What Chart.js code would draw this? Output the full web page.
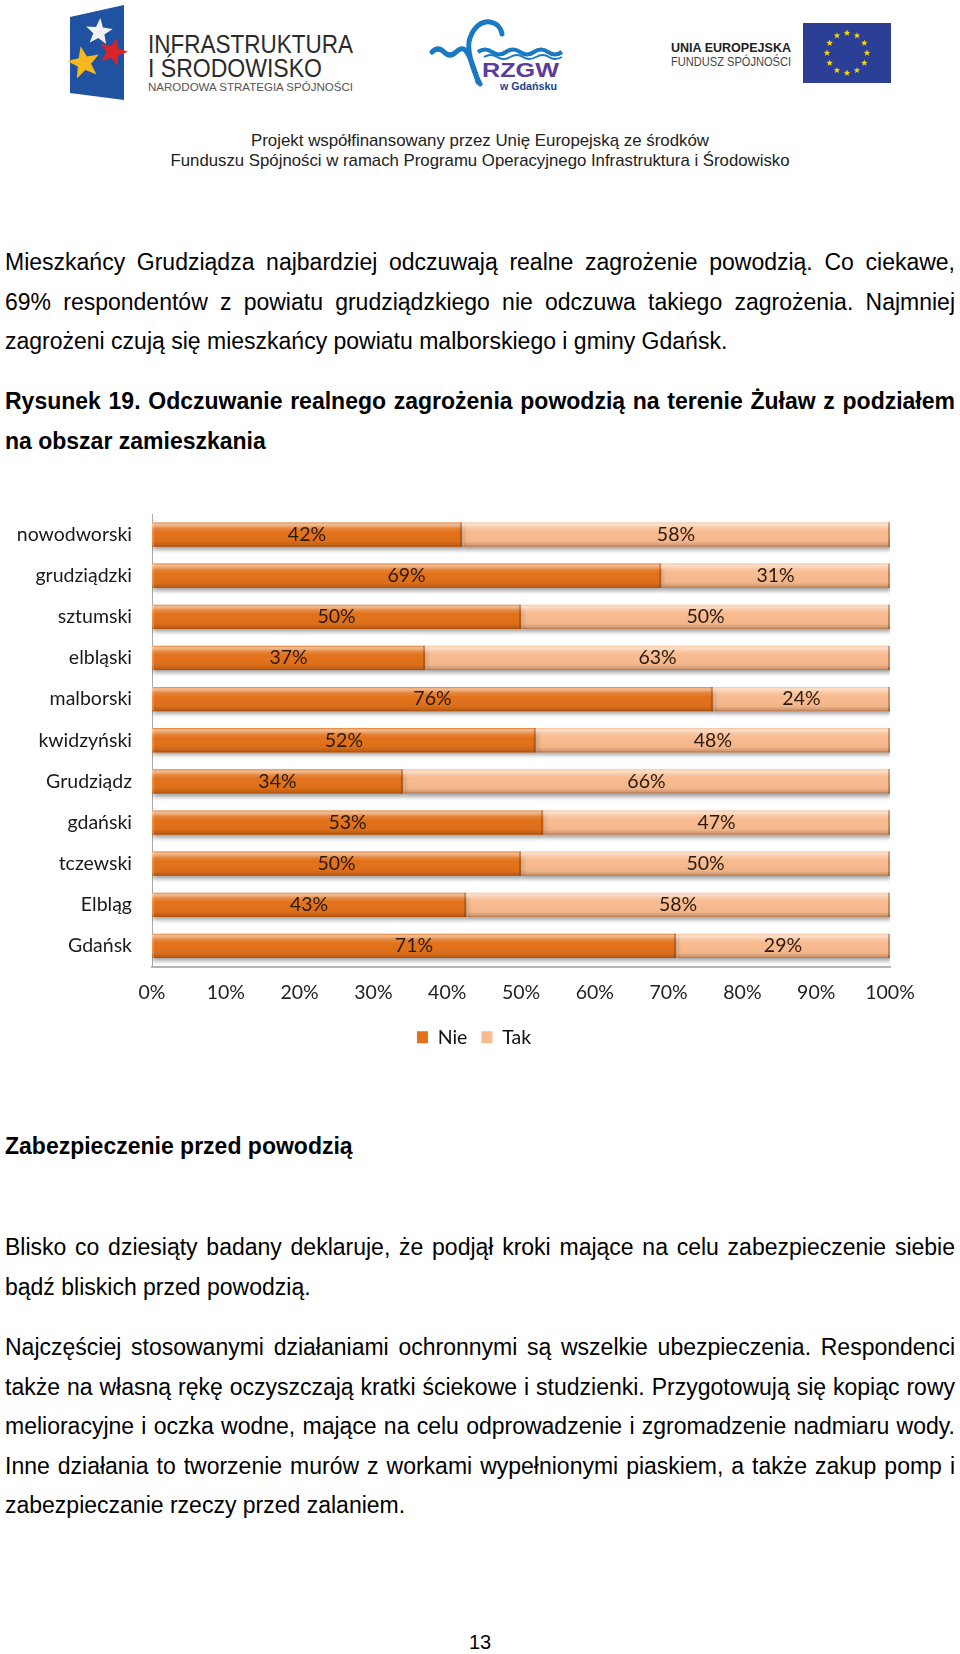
<!DOCTYPE html>
<html lang="pl">
<head>
<meta charset="UTF-8">
<title>Odczuwanie realnego zagrożenia powodzią</title>
<script src="https://cdn.jsdelivr.net/npm/chart.js"></script>
<style>
  html, body { margin: 0; padding: 0; background: #fff; }
  body { width: 960px; height: 1654px; position: relative; overflow: hidden;
         font-family: "Liberation Sans", Arial, sans-serif; color: #000; }
  .block { position: absolute; left: 5px; width: 950px; font-size: 23px; line-height: 39.5px; }
  .line { white-space: nowrap; height: 39.5px; }
  .b { font-weight: bold; }
  #chartBox { position: absolute; left: 0; top: 480px; }
  #pageNo { position: absolute; left: 0; width: 960px; top: 1631px; text-align: center; font-size: 20px; }
</style>
</head>
<body>

<svg id="header" width="960" height="180" style="position:absolute;left:0;top:0">
  <!-- Infrastruktura i Środowisko -->
  <polygon points="70,17 124,5 124,100 70,93" fill="#1f52a0"/>
  <polygon id="starW" fill="#f2f2f2"/>
  <polygon id="starR" fill="#d8232a"/>
  <polygon id="starY" fill="#f6b81c"/>
  <text x="148" y="53" font-family="Liberation Sans" font-size="26" fill="#2b2b2b" textLength="205" lengthAdjust="spacingAndGlyphs">INFRASTRUKTURA</text>
  <text x="148" y="77" font-family="Liberation Sans" font-size="26" fill="#2b2b2b" textLength="174" lengthAdjust="spacingAndGlyphs">I ŚRODOWISKO</text>
  <text x="148" y="91" font-family="Liberation Sans" font-size="11" fill="#555" textLength="205" lengthAdjust="spacingAndGlyphs">NARODOWA STRATEGIA SPÓJNOŚCI</text>

  <!-- RZGW -->
  <path d="M432,52 q6,-6 12,0 t12,0 t10,-1 C470,56 474,68 478,82" fill="none" stroke="#1b78c2" stroke-width="5" stroke-linecap="round"/>
  <path d="M480,84 C472,68 466,48 470,38 C474,26 482,21 490,22 C497,23 501,28 502,34" fill="none" stroke="#1b78c2" stroke-width="5" stroke-linecap="round"/>
  <path d="M478,52 q7,-5 14,0 t14,0 t14,0 t14,0 t14,0 t14,0" fill="none" stroke="#1b78c2" stroke-width="4"/>
  <path d="M484,57 q7,-4 13,0 t13,0 t13,0 t13,0 t13,0 t13,0" fill="none" stroke="#1b78c2" stroke-width="2"/>
  <text x="482" y="77" font-family="Liberation Sans" font-weight="bold" font-size="21" fill="#5a3c9a" textLength="77" lengthAdjust="spacingAndGlyphs">RZGW</text>
  <text x="500" y="90" font-family="Liberation Sans" font-weight="bold" font-size="11" fill="#1b3f94" textLength="57" lengthAdjust="spacingAndGlyphs">w Gdańsku</text>

  <!-- Unia Europejska -->
  <text x="671" y="52" font-family="Liberation Sans" font-weight="bold" font-size="13" fill="#222" textLength="120" lengthAdjust="spacingAndGlyphs">UNIA EUROPEJSKA</text>
  <text x="671" y="66" font-family="Liberation Sans" font-size="12" fill="#444" textLength="120" lengthAdjust="spacingAndGlyphs">FUNDUSZ SPÓJNOŚCI</text>
  <rect x="803" y="23" width="88" height="60" fill="#2c3f96"/>
  <g id="euStars" fill="#f6d60c"></g>

  <text x="480" y="146" text-anchor="middle" font-family="Liberation Sans" font-size="17" fill="#222" textLength="458" lengthAdjust="spacingAndGlyphs">Projekt współfinansowany przez Unię Europejską ze środków</text>
  <text x="480" y="166" text-anchor="middle" font-family="Liberation Sans" font-size="17" fill="#222" textLength="619" lengthAdjust="spacingAndGlyphs">Funduszu Spójności w ramach Programu Operacyjnego Infrastruktura i Środowisko</text>
</svg>

<div class="block" style="top:243px">
  <div class="line j"><span>Mieszkańcy Grudziądza najbardziej odczuwają realne zagrożenie powodzią. Co ciekawe,</span></div>
  <div class="line j"><span>69% respondentów z powiatu grudziądzkiego nie odczuwa takiego zagrożenia. Najmniej</span></div>
  <div class="line"><span>zagrożeni czują się mieszkańcy powiatu malborskiego i gminy Gdańsk.</span></div>
</div>

<div class="block b" style="top:382px">
  <div class="line j"><span>Rysunek 19. Odczuwanie realnego zagrożenia powodzią na terenie Żuław z podziałem</span></div>
  <div class="line"><span>na obszar zamieszkania</span></div>
</div>

<div id="chartBox"><canvas id="floodChart" width="960" height="580"></canvas></div>

<div class="block b" style="top:1127px">
  <div class="line"><span>Zabezpieczenie przed powodzią</span></div>
</div>

<div class="block" style="top:1228px">
  <div class="line j"><span>Blisko co dziesiąty badany deklaruje, że podjął kroki mające na celu zabezpieczenie siebie</span></div>
  <div class="line"><span>bądź bliskich przed powodzią.</span></div>
</div>

<div class="block" style="top:1328px">
  <div class="line j"><span>Najczęściej stosowanymi działaniami ochronnymi są wszelkie ubezpieczenia. Respondenci</span></div>
  <div class="line j"><span>także na własną rękę oczyszczają kratki ściekowe i studzienki. Przygotowują się kopiąc rowy</span></div>
  <div class="line j"><span>melioracyjne i oczka wodne, mające na celu odprowadzenie i zgromadzenie nadmiaru wody.</span></div>
  <div class="line j"><span>Inne działania to tworzenie murów z workami wypełnionymi piaskiem, a także zakup pomp i</span></div>
  <div class="line"><span>zabezpieczanie rzeczy przed zalaniem.</span></div>
</div>

<div id="pageNo">13</div>

<script>
// chart data
const categories = ['nowodworski', 'grudziądzki', 'sztumski', 'elbląski', 'malborski', 'kwidzyński',
                    'Grudziądz', 'gdański', 'tczewski', 'Elbląg', 'Gdańsk'];
const nieValues = [42, 69, 50, 37, 76, 52, 34, 53, 50, 43, 71];
const takValues = [58, 31, 50, 63, 24, 48, 66, 47, 50, 58, 29];
const seriesNames = ['Nie', 'Tak'];

// 100% stacked: each row is scaled to its total
const nieShare = nieValues.map((v, i) => v / (v + takValues[i]) * 100);
const takShare = takValues.map((v, i) => v / (nieValues[i] + v) * 100);

const NIE_COLOR = '#e2711a';
const TAK_COLOR = '#f8ba8e';
const chartFont = { family: 'Lato, "Open Sans", sans-serif', size: 19.5 };

// star helper for the logos
function starPoints(cx, cy, r, rot) {
  const pts = [];
  for (let i = 0; i < 10; i++) {
    const rr = i % 2 ? r * 0.42 : r;
    const a = rot + i * Math.PI / 5 - Math.PI / 2;
    pts.push((cx + rr * Math.cos(a)).toFixed(1) + ',' + (cy + rr * Math.sin(a)).toFixed(1));
  }
  return pts.join(' ');
}
document.getElementById('starW').setAttribute('points', starPoints(99, 32, 14, 0.1));
document.getElementById('starR').setAttribute('points', starPoints(113, 52, 15, 0.3));
document.getElementById('starY').setAttribute('points', starPoints(84, 63, 17, -0.2));
const eu = document.getElementById('euStars');
for (let k = 0; k < 12; k++) {
  const a = k * Math.PI / 6;
  const p = document.createElementNS('http://www.w3.org/2000/svg', 'polygon');
  p.setAttribute('points', starPoints(847 + 20 * Math.sin(a), 53 - 20 * Math.cos(a), 3.4, 0));
  eu.appendChild(p);
}

// justify lines exactly like the document
document.querySelectorAll('.line.j').forEach(el => {
  const span = el.firstElementChild;
  const natural = span.getBoundingClientRect().width;
  const spaces = (span.textContent.match(/ /g) || []).length;
  span.style.wordSpacing = ((950 - natural) / spaces) + 'px';
});

// glossy bar look + value labels
const barDecor = {
  id: 'barDecor',
  beforeDatasetsDraw(chart) {
    const c = chart.ctx;
    c.save();
    c.shadowColor = 'rgba(0,0,0,0.35)';
    c.shadowBlur = 4;
    c.shadowOffsetX = 1;
    c.shadowOffsetY = 3;
  },
  afterDatasetsDraw(chart) {
    const c = chart.ctx;
    c.restore();
    chart.data.datasets.forEach((ds, di) => {
      chart.getDatasetMeta(di).data.forEach((bar, i) => {
        const { x, y, base, height } = bar.getProps(['x', 'y', 'base', 'height'], true);
        const left = Math.min(x, base), right = Math.max(x, base);
        const top = y - height / 2;
        const g = c.createLinearGradient(0, top, 0, top + height);
        g.addColorStop(0, 'rgba(255,255,255,0.15)');
        g.addColorStop(0.08, 'rgba(255,255,255,0.55)');
        g.addColorStop(0.25, 'rgba(255,255,255,0.15)');
        g.addColorStop(0.4, 'rgba(255,255,255,0)');
        g.addColorStop(0.8, 'rgba(0,0,0,0.03)');
        g.addColorStop(0.92, 'rgba(90,35,0,0.2)');
        g.addColorStop(1, 'rgba(90,35,0,0.45)');
        c.fillStyle = g;
        c.fillRect(left, top, right - left, height);
        c.fillStyle = 'rgba(110,45,0,0.35)';
        c.fillRect(right - 2, top, 2, height);
        c.fillStyle = 'rgba(255,255,255,0.2)';
        c.fillRect(left, top, 2, height);

        const raw = di === 0 ? nieValues[i] : takValues[i];
        c.fillStyle = '#2a1a0e';
        c.font = '19.5px Lato, "Open Sans", sans-serif';
        c.textAlign = 'center';
        c.textBaseline = 'middle';
        c.fillText(raw + '%', (left + right) / 2, y);
      });
    });
  }
};

// legend sits a bit right of the canvas centre, like in the document
const legendShift = {
  id: 'legendShift',
  afterLayout(chart) {
    chart.legend.left += 29;
    chart.legend.right += 29;
  }
};

const ctx = document.getElementById('floodChart').getContext('2d');
new Chart(ctx, {
  type: 'bar',
  data: {
    labels: categories,
    datasets: [
      { label: seriesNames[0], data: nieShare, backgroundColor: NIE_COLOR, borderWidth: 0,
        barPercentage: 0.59, categoryPercentage: 1 },
      { label: seriesNames[1], data: takShare, backgroundColor: TAK_COLOR, borderWidth: 0,
        barPercentage: 0.59, categoryPercentage: 1 }
    ]
  },
  options: {
    indexAxis: 'y',
    responsive: false,
    animation: false,
    layout: { padding: { top: 34, right: 70, left: 0, bottom: 3 } },
    scales: {
      x: {
        stacked: true, min: 0, max: 100,
        ticks: { stepSize: 10, callback: v => v + '%', font: chartFont, color: '#222',
                 padding: 15, maxRotation: 0, autoSkip: false },
        grid: { display: false, drawTicks: false },
        border: { display: true, color: '#b5b5b5', width: 2 },
        afterFit: s => { s.height = 47; }
      },
      y: {
        stacked: true,
        ticks: { font: chartFont, color: '#1a1a1a', padding: 20 },
        grid: { display: false, drawTicks: false },
        border: { display: true, color: '#a8a8a8', width: 1 },
        afterFit: s => { s.width = 152; }
      }
    },
    plugins: {
      legend: {
        position: 'bottom',
        labels: { boxWidth: 11, boxHeight: 12, font: chartFont, color: '#111', padding: 14 }
      },
      tooltip: { enabled: false }
    }
  },
  plugins: [barDecor, legendShift]
});
</script>
</body>
</html>
